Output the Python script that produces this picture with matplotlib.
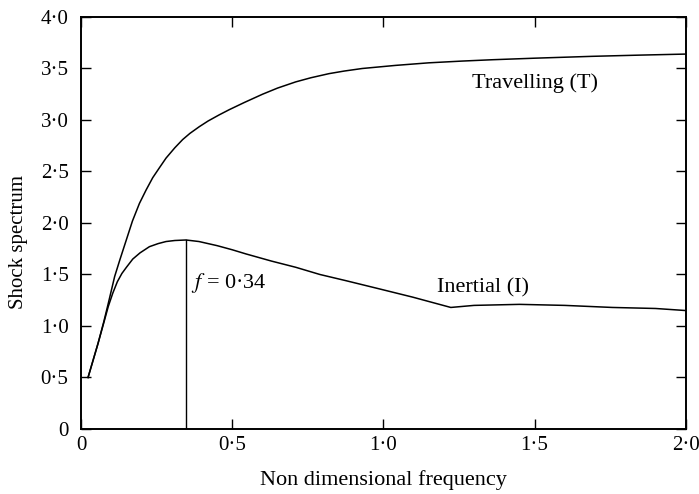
import matplotlib.pyplot as plt

plt.rcParams["font.family"] = ["Liberation Serif", "DejaVu Serif"]
plt.rcParams["mathtext.fontset"] = "stix"

# values
trav_f = [0.023, 0.04, 0.056, 0.075, 0.09, 0.111, 0.128, 0.149, 0.17, 0.193, 0.215,
          0.237, 0.26, 0.281, 0.31, 0.336, 0.36, 0.391, 0.42, 0.457, 0.49, 0.54,
          0.6, 0.65, 0.71, 0.76, 0.82, 0.87, 0.93, 1.04, 1.15, 1.26, 1.36, 1.5,
          1.69, 1.85, 2.0]
trav_s = [0.50, 0.67, 0.83, 1.04, 1.22, 1.48, 1.64, 1.83, 2.02, 2.19, 2.32,
          2.44, 2.54, 2.63, 2.73, 2.81, 2.87, 2.935, 2.99, 3.05, 3.10, 3.17,
          3.25, 3.31, 3.37, 3.41, 3.45, 3.475, 3.50, 3.53, 3.555, 3.572, 3.585, 3.60,
          3.618, 3.63, 3.64]

inert_f = [0.023, 0.04, 0.056, 0.075, 0.09, 0.105, 0.12, 0.135, 0.15, 0.171, 0.195,
           0.226, 0.255, 0.281, 0.31, 0.347, 0.39, 0.45, 0.5, 0.545, 0.63, 0.71,
           0.79, 0.876, 0.987, 1.097, 1.223, 1.3, 1.45, 1.6, 1.757, 1.9, 2.0]
inert_s = [0.50, 0.67, 0.83, 1.03, 1.19, 1.32, 1.43, 1.51, 1.57, 1.65, 1.71,
           1.77, 1.80, 1.82, 1.83, 1.835, 1.82, 1.78, 1.74, 1.70, 1.63, 1.57,
           1.50, 1.44, 1.36, 1.28, 1.18, 1.20, 1.21, 1.20, 1.18, 1.17, 1.15]

peak_f = 0.347
peak_s = 1.835

xticks = [0, 0.5, 1.0, 1.5, 2.0]
xlabels = ["0", "0·5", "1·0", "1·5", "2·0"]
yticks = [0, 0.5, 1.0, 1.5, 2.0, 2.5, 3.0, 3.5, 4.0]
ylabels = ["0", "0·5", "1·0", "1·5", "2·0", "2·5", "3·0", "3·5", "4·0"]

fig = plt.figure(figsize=(6.99, 4.94), dpi=100)
ax = fig.add_axes([0.116, 0.1316, 0.865, 0.834])

ax.plot(trav_f, trav_s, color="black", lw=1.1)
ax.plot(inert_f, inert_s, color="black", lw=1.1)
ax.plot([peak_f, peak_f], [0, peak_s], color="black", lw=1.0)

ax.text(1.5, 3.36, "Travelling (T)", ha="center", va="center", fontsize=16)
ax.text(1.33, 1.37, "Inertial (I)", ha="center", va="center", fontsize=16)
ax.text(0.362, 1.42, "$f$ = 0·34", ha="left", va="center", fontsize=16)

ax.set_xlim(0, 2.0)
ax.set_ylim(0, 4.0)
ax.set_xticks(xticks)
ax.set_xticklabels(xlabels)
ax.set_yticks(yticks)
ax.set_yticklabels(ylabels)
ax.tick_params(direction="in", length=7, width=1.0, labelsize=15,
               top=True, right=True)
ax.tick_params(axis="x", pad=5)
ax.tick_params(axis="y", pad=9)
for sp in ax.spines.values():
    sp.set_linewidth(1.4)

ax.set_xlabel("Non dimensional frequency", fontsize=16, labelpad=11)
ax.set_ylabel("Shock spectrum", fontsize=15)
ax.yaxis.set_label_coords(-0.087, 0.455)

fig.savefig("out.png")
